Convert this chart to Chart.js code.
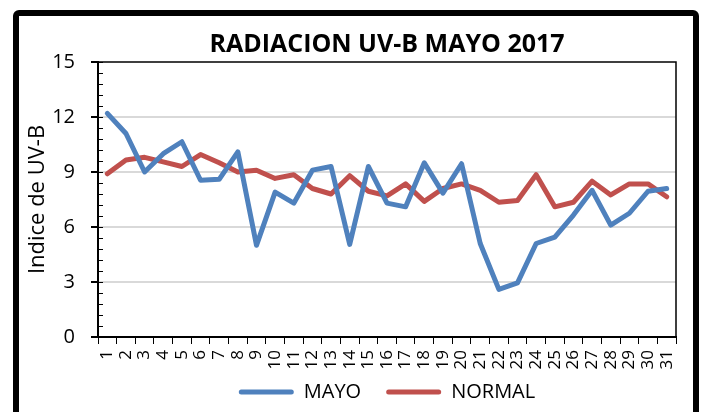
<!DOCTYPE html>
<html>
<head>
<meta charset="utf-8">
<script src="https://cdn.jsdelivr.net/npm/chart.js@4/dist/chart.umd.min.js"></script>
<style>
  html, body { margin: 0; padding: 0; background: #fff; }
  #wrap { width: 703px; height: 412px; }
</style>
</head>
<body>
<div id="wrap"><canvas id="chart_uv" width="703" height="412"></canvas></div>
<script>
// dias del mes
var dias = ["1","2","3","4","5","6","7","8","9","10","11","12","13","14","15","16",
            "17","18","19","20","21","22","23","24","25","26","27","28","29","30","31"];

// indice UV-B medido (mayo 2017)
var mayo = [12.2, 11.1, 9.0, 10.0, 10.65, 8.55, 8.6, 10.1, 5.0, 7.9, 7.3, 9.1, 9.3, 5.05, 9.3, 7.3,
            7.1, 9.5, 7.85, 9.45, 5.1, 2.6, 2.95, 5.1, 5.45, 6.65, 8.0, 6.1, 6.75, 7.95, 8.1];

// valores normales
var normal = [8.9, 9.65, 9.8, 9.55, 9.3, 9.95, 9.5, 9.0, 9.1, 8.65, 8.85, 8.1, 7.8, 8.8, 7.95, 7.7,
              8.35, 7.4, 8.1, 8.35, 8.0, 7.35, 7.45, 8.85, 7.1, 7.35, 8.5, 7.75, 8.35, 8.35, 7.65];

var azul = "#4f81bd";
var rojo = "#c0504d";
var fuente = "'Open Sans', 'DejaVu Sans', sans-serif";

// marco exterior, borde del area de trazado y marcas menores del eje Y
var marcoPlugin = {
  id: "marco",
  afterDraw: function (chart) {
    var ctx = chart.ctx;
    var a = chart.chartArea;
    var ys = chart.scales.y;
    ctx.save();
    ctx.strokeStyle = "#000";
    ctx.lineWidth = 1.5;
    ctx.beginPath();
    ctx.moveTo(a.left, a.top);
    ctx.lineTo(a.right, a.top);
    ctx.lineTo(a.right, a.bottom);
    ctx.stroke();

    ctx.lineWidth = 1;
    ctx.beginPath();
    for (var i = 0; i <= 25; i++) {
      var py = Math.round(ys.getPixelForValue(i * 0.6)) + 0.5;
      ctx.moveTo(a.left, py);
      ctx.lineTo(a.left + 5, py);
    }
    ctx.stroke();

    ctx.lineWidth = 6;
    ctx.beginPath();
    ctx.roundRect(16, 13, 680, 430, 3);
    ctx.stroke();
    ctx.restore();
  }
};

var data = {
  labels: dias,
  datasets: [
    {
      label: "MAYO",
      data: mayo,
      borderColor: azul,
      backgroundColor: azul,
      borderWidth: 5,
      pointRadius: 0,
      borderJoinStyle: "round",
      borderCapStyle: "round",
      tension: 0
    },
    {
      label: "NORMAL",
      data: normal,
      borderColor: rojo,
      backgroundColor: rojo,
      borderWidth: 5,
      pointRadius: 0,
      borderJoinStyle: "round",
      borderCapStyle: "round",
      tension: 0
    }
  ]
};

var options = {
  responsive: false,
  animation: false,
  layout: { padding: { left: 0, right: 27, top: 0, bottom: 0 } },
  scales: {
    x: {
      offset: true,
      grid: {
        offset: true,
        drawOnChartArea: false,
        color: "#000",
        tickColor: "#000",
        tickLength: 7
      },
      border: { color: "#000", width: 2 },
      ticks: {
        autoSkip: false,
        minRotation: 90,
        maxRotation: 90,
        padding: 6,
        color: "#000",
        font: { family: fuente, size: 17 }
      },
      afterFit: function (scale) {
        scale.height = 20;
        // las etiquetas bajan hasta la zona de la leyenda: sin recorte
        scale._computeLabelArea = function () { return undefined; };
      }
    },
    y: {
      min: 0,
      max: 15,
      ticks: {
        stepSize: 3,
        padding: 16,
        color: "#000",
        font: { family: fuente, size: 20 }
      },
      grid: {
        color: function (ctx) {
          var v = ctx.tick ? ctx.tick.value : 0;
          return (v > 0 && v < 15) ? "#d9d9d9" : "rgba(0,0,0,0)";
        },
        lineWidth: 2,
        tickColor: "#000",
        tickLength: 7
      },
      border: { color: "#000", width: 2 },
      title: {
        display: true,
        text: "Indice de UV-B",
        color: "#000",
        font: { family: fuente, size: 22 },
        padding: { top: 25, bottom: 0 }
      },
      afterFit: function (scale) { scale.width = 98; }
    }
  },
  plugins: {
    title: {
      display: true,
      fullSize: false,
      text: "RADIACION UV-B MAYO 2017",
      color: "#000",
      font: { family: fuente, size: 25, weight: "bold", lineHeight: 1.2 },
      padding: { top: 30, bottom: 2 }
    },
    legend: {
      position: "bottom",
      fullSize: false,
      labels: {
        boxWidth: 55,
        boxHeight: 5,
        padding: 25,
        useBorderRadius: true,
        borderRadius: 2.5,
        color: "#000",
        font: { family: fuente, size: 20 },
        generateLabels: function (chart) {
          var items = Chart.defaults.plugins.legend.labels.generateLabels(chart);
          items.forEach(function (it) {
            it.fillStyle = it.strokeStyle;
            it.lineWidth = 0;
          });
          return items;
        }
      }
    },
    tooltip: { enabled: false }
  }
};

var ctx = document.getElementById("chart_uv").getContext("2d");
var uvChart = new Chart(ctx, {
  type: "line",
  data: data,
  options: options,
  plugins: [marcoPlugin]
});
</script>
</body>
</html>
